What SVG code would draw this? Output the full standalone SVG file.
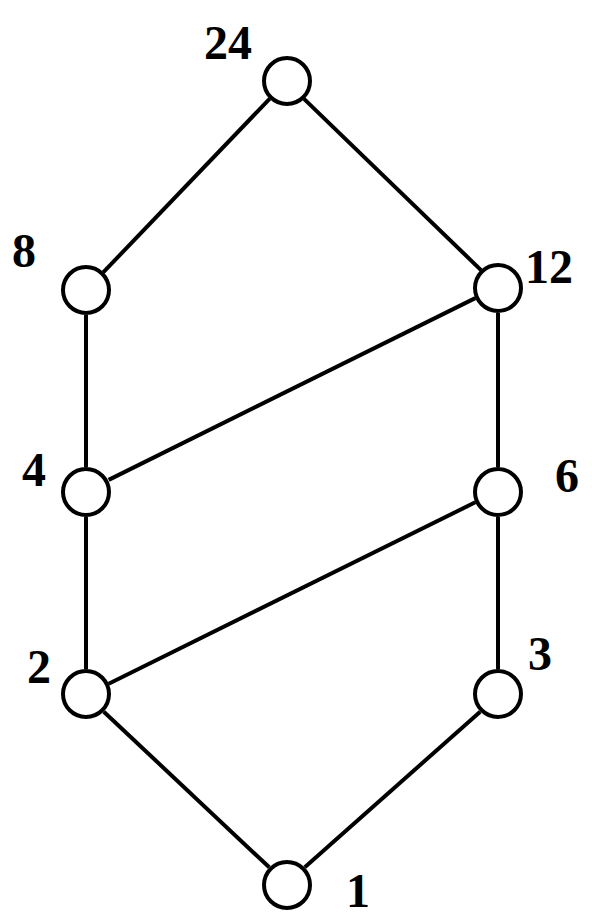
<svg xmlns="http://www.w3.org/2000/svg" width="592" height="924" viewBox="0 0 592 924">
<style>
.e{stroke:#000;stroke-width:4;fill:none;stroke-linecap:butt}
.n{fill:#fff;stroke:#000;stroke-width:4}
.t{font-family:"Liberation Serif","Times New Roman",serif;font-weight:bold;font-size:48px;fill:#000;text-anchor:middle}
</style>
<rect width="592" height="924" fill="#fff"/>
<g id="connectors">
<line class="e" x1="269.8" y1="98.6" x2="103.2" y2="272.4"/>
<line class="e" x1="304.0" y1="98.9" x2="481.0" y2="270.1"/>
<line class="e" x1="86" y1="315" x2="86" y2="467"/>
<line class="e" x1="475.3" y1="298.1" x2="108.7" y2="479.9"/>
<line class="e" x1="498" y1="313" x2="498" y2="467"/>
<line class="e" x1="86" y1="517" x2="86" y2="669"/>
<line class="e" x1="475.3" y1="502.3" x2="108.7" y2="683.7"/>
<line class="e" x1="498" y1="517" x2="498" y2="669"/>
<line class="e" x1="103.8" y1="711.7" x2="269.2" y2="867.3"/>
<line class="e" x1="480.2" y1="711.7" x2="304.8" y2="867.3"/>
</g>
<g id="n24"><circle class="n" cx="287" cy="81" r="23"/><text class="t" x="228" y="59">24</text></g>
<g id="n8"><circle class="n" cx="86" cy="290" r="23"/><text class="t" x="24" y="267">8</text></g>
<g id="n12"><circle class="n" cx="498" cy="288" r="23"/><text class="t" x="549" y="283">12</text></g>
<g id="n4"><circle class="n" cx="86" cy="492" r="23"/><text class="t" x="34" y="486">4</text></g>
<g id="n6"><circle class="n" cx="498" cy="492" r="23"/><text class="t" x="567" y="492">6</text></g>
<g id="n2"><circle class="n" cx="86" cy="694" r="23"/><text class="t" x="39" y="683">2</text></g>
<g id="n3"><circle class="n" cx="498" cy="694" r="23"/><text class="t" x="540" y="670">3</text></g>
<g id="n1"><circle class="n" cx="287" cy="885" r="23"/><text class="t" x="358" y="907">1</text></g>
</svg>
